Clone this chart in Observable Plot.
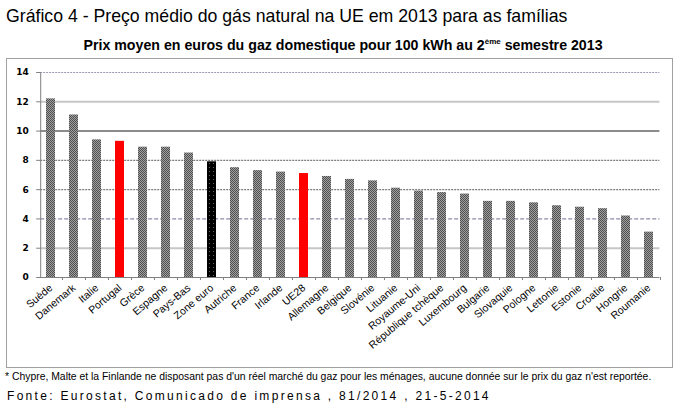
<!DOCTYPE html>
<html>
<head>
<meta charset="utf-8">
<script src="https://cdn.jsdelivr.net/npm/d3@7"></script>
<script src="https://cdn.jsdelivr.net/npm/@observablehq/plot@0.6"></script>
<style>
  html, body { margin: 0; padding: 0; background: #fff; }
  body { width: 678px; height: 410px; position: relative; overflow: hidden; font-family: "Liberation Sans", Arial, sans-serif; color: #000; }
  #title { position: absolute; left: 6px; top: 6px; font-size: 17.7px; white-space: nowrap; }
  #subtitle { position: absolute; left: 0; width: 686px; top: 37px; text-align: center; font-size: 14.2px; font-weight: bold; white-space: nowrap; }
  #subtitle sup { font-size: 8px; vertical-align: 6px; line-height: 0; }
  #frame { position: absolute; left: 6px; top: 58px; width: 665px; height: 308px; border: 1px solid #a0a0a0; }
  #chart { position: absolute; left: 0; top: 58px; }
  #note { position: absolute; left: 5px; top: 371px; font-size: 10.4px; white-space: nowrap; }
  #source { position: absolute; left: 7px; top: 389px; font-size: 12px; letter-spacing: 2.3px; white-space: nowrap; }
</style>
</head>
<body>
<svg width="0" height="0" style="position:absolute">
  <defs>
    <pattern id="dither-gray" width="2" height="2" patternUnits="userSpaceOnUse">
      <rect width="2" height="2" fill="#a0a0a0"/>
      <rect width="1" height="1" fill="#505050"/>
      <rect x="1" y="1" width="1" height="1" fill="#505050"/>
    </pattern>
    <pattern id="dither-black" width="4" height="4" patternUnits="userSpaceOnUse">
      <rect width="4" height="4" fill="#000"/>
      <rect x="1" y="1" width="1" height="1" fill="#666"/>
    </pattern>
  </defs>
</svg>
<div id="title">Gráfico 4 - Preço médio do gás natural na UE em 2013 para as famílias</div>
<div id="subtitle">Prix moyen en euros du gaz domestique pour 100 kWh au 2<sup>ème</sup> semestre 2013</div>
<div id="frame"></div>
<div id="chart"></div>
<div id="note">* Chypre, Malte et la Finlande ne disposant pas d'un réel marché du gaz pour les ménages, aucune donnée sur le prix du gaz n'est reportée.</div>
<div id="source">Fonte: Eurostat, Comunicado de imprensa , 81/2014 , 21-5-2014</div>
<script>
// Average household gas price, euros per 100 kWh, 2nd half of 2013
const countries = [
  "Suède", "Danemark", "Italie", "Portugal", "Grèce", "Espagne", "Pays-Bas",
  "Zone euro", "Autriche", "France", "Irlande", "UE28", "Allemagne", "Belgique",
  "Slovénie", "Lituanie", "Royaume-Uni", "République tchèque", "Luxembourg",
  "Bulgarie", "Slovaquie", "Pologne", "Lettonie", "Estonie", "Croatie",
  "Hongrie", "Roumanie"
];
const prices = [
  12.2, 11.1, 9.4, 9.3, 8.9, 8.9, 8.5,
  7.9, 7.5, 7.3, 7.2, 7.1, 6.9, 6.7,
  6.6, 6.1, 5.9, 5.8, 5.7,
  5.2, 5.2, 5.1, 4.9, 4.8, 4.7,
  4.2, 3.1
];
const yTicks = [0, 2, 4, 6, 8, 10, 12, 14];

// Highlighted groups
const redGroup = ["Portugal", "UE28"];
const blackGroup = ["Zone euro"];

const data = countries.map((country, i) => ({country, price: prices[i]}));
const fillFor = (d) =>
  redGroup.includes(d.country) ? "#ff0000" :
  blackGroup.includes(d.country) ? "url(#dither-black)" : "url(#dither-gray)";

const step = (659.4 - 40.2) / countries.length;

const chart = Plot.plot({
  width: 678,
  height: 309,
  marginTop: 14,
  marginBottom: 90,
  marginLeft: 40.2,
  marginRight: 18.6,
  style: {background: "transparent", fontFamily: "'DejaVu Sans', sans-serif", color: "#000"},
  x: {domain: countries, paddingInner: 0.61, paddingOuter: 0, label: null},
  y: {domain: [0, 14], label: null},
  marks: [
    // horizontal grid, each level styled as in the Excel original
    Plot.ruleY([2, 12], {stroke: "#c6c6c6", strokeWidth: 2}),
    Plot.ruleY([10], {stroke: "#8c8c8c", strokeWidth: 2}),
    Plot.ruleY([4], {stroke: "#8a8aa8", strokeWidth: 1.2, strokeDasharray: "4,2"}),
    Plot.ruleY([6, 8], {stroke: "#7c7c7c", strokeWidth: 1.2, strokeDasharray: "2,1"}),
    Plot.ruleY([14], {stroke: "#9a9ab0", strokeWidth: 1, strokeDasharray: "2,1"}),
    Plot.barY(data, {x: "country", y: "price", fill: fillFor}),
    // axis lines
    Plot.ruleY([0], {stroke: "#808080", strokeWidth: 1}),
    Plot.frame({anchor: "left", stroke: "#808080"}),
    Plot.axisY({ticks: yTicks, tickSize: 4, tickPadding: 8, fontSize: 9, fontWeight: "bold", stroke: "#808080", tickFormat: d => d, label: null}),
    // category boundary ticks
    Plot.axisX({tickSize: 3, tickFormat: () => "", dx: step / 2, stroke: "#808080", label: null}),
    Plot.axisX({tickSize: 0, tickPadding: 9, tickRotate: -40, fontSize: 10.5, fontFamily: "'Liberation Sans', sans-serif", label: null})
  ]
});
document.getElementById("chart").appendChild(chart);
</script>
</body>
</html>
